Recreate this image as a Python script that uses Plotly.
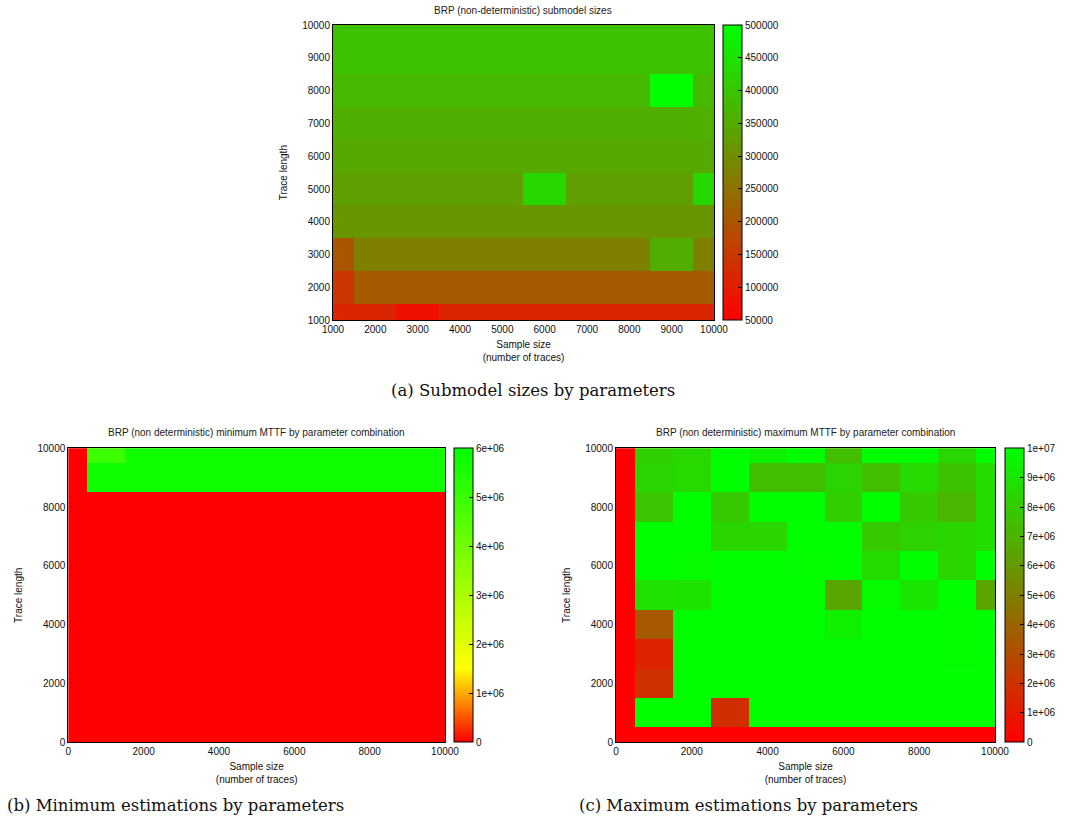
import plotly.graph_objects as go

# ---- (a) submodel sizes: x = sample size, y = trace length ----
sizes_x = [1000, 2000, 3000, 4000, 5000, 6000, 7000, 8000, 9000, 10000]
sizes_y = [1000, 2000, 3000, 4000, 5000, 6000, 7000, 8000, 9000, 10000]
sizes_z = [
    [117000, 117000, 78000, 117000, 117000, 117000, 117000, 117000, 117000, 117000],
    [143500, 208800, 208800, 208800, 208800, 208800, 208800, 208800, 208800, 208800],
    [200000, 275900, 275900, 275900, 275900, 275900, 275900, 275900, 357000, 275900],
    [314700, 314700, 314700, 314700, 314700, 314700, 314700, 314700, 314700, 314700],
    [330600, 330600, 330600, 330600, 330600, 431000, 330600, 330600, 330600, 431000],
    [346500, 346500, 346500, 346500, 346500, 346500, 346500, 346500, 346500, 347500],
    [358800, 358800, 358800, 358800, 358800, 358800, 358800, 358800, 358800, 360000],
    [374700, 374700, 374700, 374700, 374700, 374700, 374700, 374700, 500000, 374700],
    [392000, 392000, 392000, 392000, 392000, 392000, 392000, 392000, 392000, 392000],
    [392500, 392500, 392500, 392500, 392500, 392500, 392500, 392500, 392500, 392500],
]
sizes_cb_vals = [50000, 100000, 150000, 200000, 250000, 300000, 350000, 400000, 450000, 500000]
sizes_cb_text = ["50000", "100000", "150000", "200000", "250000", "300000",
                 "350000", "400000", "450000", "500000"]

# ---- (b) minimum MTTF ----
mttf_x = [0, 1000, 2000, 3000, 4000, 5000, 6000, 7000, 8000, 9000, 10000]
mttf_y = [0, 1000, 2000, 3000, 4000, 5000, 6000, 7000, 8000, 9000, 10000]
min_z = [
    [0] * 11,
    [0] * 11,
    [0] * 11,
    [0] * 11,
    [0] * 11,
    [0] * 11,
    [0] * 11,
    [0] * 11,
    [0] * 11,
    [0, 5.72e6, 5.72e6, 5.72e6, 5.72e6, 5.72e6, 5.72e6, 5.72e6, 5.72e6, 5.72e6, 5.72e6],
    [0, 4.95e6, 5.72e6, 5.72e6, 5.72e6, 5.72e6, 5.72e6, 5.72e6, 5.72e6, 5.72e6, 5.72e6],
]
min_cb_vals = [0, 1e6, 2e6, 3e6, 4e6, 5e6, 6e6]
min_cb_text = ["0", "1e+06", "2e+06", "3e+06", "4e+06", "5e+06", "6e+06"]

# ---- (c) maximum MTTF ----
max_z = [
    [0, 0, 0, 0, 0, 0, 0, 0, 0, 0, 0],
    [0, 1.0e7, 1.0e7, 1.8e6, 1.0e7, 1.0e7, 1.0e7, 1.0e7, 1.0e7, 1.0e7, 1.0e7],
    [0, 1.9e6, 1.0e7, 1.0e7, 1.0e7, 1.0e7, 1.0e7, 1.0e7, 1.0e7, 1.0e7, 1.0e7],
    [0, 1.35e6, 1.0e7, 1.0e7, 1.0e7, 1.0e7, 1.0e7, 1.0e7, 1.0e7, 9.9e6, 1.0e7],
    [0, 3.5e6, 1.0e7, 1.0e7, 1.0e7, 1.0e7, 9.4e6, 1.0e7, 1.0e7, 9.9e6, 1.0e7],
    [0, 8.8e6, 8.9e6, 1.0e7, 1.0e7, 1.0e7, 6.5e6, 9.85e6, 9.0e6, 1.0e7, 6.5e6],
    [0, 1.0e7, 9.85e6, 1.0e7, 1.0e7, 9.9e6, 1.0e7, 8.6e6, 1.0e7, 8.4e6, 1.0e7],
    [0, 1.0e7, 1.0e7, 8.4e6, 8.4e6, 1.0e7, 1.0e7, 7.9e6, 8.24e6, 8.4e6, 8.7e6],
    [0, 7.76e6, 1.0e7, 7.92e6, 1.0e7, 1.0e7, 8.08e6, 1.0e7, 7.92e6, 7.14e6, 8.63e6],
    [0, 8.31e6, 8.55e6, 1.0e7, 7.45e6, 7.45e6, 8.31e6, 7.45e6, 8.55e6, 7.65e6, 8.63e6],
    [0, 8.16e6, 8.47e6, 1.0e7, 9.5e6, 1.0e7, 7.45e6, 1.0e7, 1.0e7, 8.4e6, 1.0e7],
]
max_cb_vals = [0, 1e6, 2e6, 3e6, 4e6, 5e6, 6e6, 7e6, 8e6, 9e6, 1e7]
max_cb_text = ["0", "1e+06", "2e+06", "3e+06", "4e+06", "5e+06", "6e+06",
               "7e+06", "8e+06", "9e+06", "1e+07"]

axis_ticks_a = [1000, 2000, 3000, 4000, 5000, 6000, 7000, 8000, 9000, 10000]
axis_text_a = ["1000", "2000", "3000", "4000", "5000", "6000", "7000", "8000", "9000", "10000"]
axis_ticks_bc = [0, 2000, 4000, 6000, 8000, 10000]
axis_text_bc = ["0", "2000", "4000", "6000", "8000", "10000"]

titles = [
    "BRP (non-deterministic) submodel sizes",
    "BRP (non deterministic) minimum MTTF by parameter combination",
    "BRP (non deterministic) maximum MTTF by parameter combination",
]
captions = [
    "(a) Submodel sizes by parameters",
    "(b) Minimum estimations by parameters",
    "(c) Maximum estimations by parameters",
]

W, H = 1065, 829
SANS = "Liberation Sans, Arial, sans-serif"
SERIF = "DejaVu Serif, serif"


def px(x):
    return x / W


def py(y):
    return 1 - y / H


fig = go.Figure()

fig.add_trace(go.Heatmap(x=sizes_x, y=sizes_y, z=sizes_z, coloraxis="coloraxis",
                         xaxis="x", yaxis="y"))
fig.add_trace(go.Heatmap(x=mttf_x, y=mttf_y, z=min_z, coloraxis="coloraxis2",
                         xaxis="x2", yaxis="y2"))
fig.add_trace(go.Heatmap(x=mttf_x, y=mttf_y, z=max_z, coloraxis="coloraxis3",
                         xaxis="x3", yaxis="y3"))

tick_font = dict(family=SANS, size=10, color="#111")


def xaxis(domain, rng, ticks, text, anchor):
    return dict(domain=domain, range=rng, tickvals=ticks, ticktext=text, anchor=anchor,
                showgrid=False, zeroline=False, showline=True, mirror=True,
                linecolor="#000", linewidth=1, ticks="", tickfont=tick_font,
                automargin=False,
                title=dict(text="Sample size<br>(number of traces)",
                           font=dict(family=SANS, size=10, color="#111"), standoff=6))


def yaxis(domain, rng, ticks, text, anchor):
    return dict(domain=domain, range=rng, tickvals=ticks, ticktext=text, anchor=anchor,
                showgrid=False, zeroline=False, showline=True, mirror=True,
                linecolor="#000", linewidth=1, ticks="", tickfont=tick_font,
                automargin=False,
                title=dict(text="Trace length",
                           font=dict(family=SANS, size=10, color="#111"), standoff=12))


def cbar(x_left, top, bottom, vals, text):
    return dict(x=px(x_left), xanchor="left", y=py(top), yanchor="top",
                len=(bottom - top) / H, lenmode="fraction", thickness=19,
                xpad=0, ypad=0, outlinecolor="#000", outlinewidth=1,
                ticks="inside", ticklen=4, tickcolor="#000",
                tickvals=vals, ticktext=text, tickfont=tick_font)


dom_a_x = [px(333), px(714)]
dom_a_y = [py(320.3), py(25)]
dom_b_x = [px(68.3), px(445)]
dom_c_x = [px(616), px(995)]
dom_bc_y = [py(742.3), py(448.3)]

fig.update_layout(
    width=W, height=H,
    margin=dict(l=0, r=0, t=0, b=0, autoexpand=False),
    paper_bgcolor="white", plot_bgcolor="white",
    xaxis=xaxis(dom_a_x, [1000, 10000], axis_ticks_a, axis_text_a, "y"),
    yaxis=yaxis(dom_a_y, [1000, 10000], axis_ticks_a, axis_text_a, "x"),
    xaxis2=xaxis(dom_b_x, [0, 10000], axis_ticks_bc, axis_text_bc, "y2"),
    yaxis2=yaxis(dom_bc_y, [0, 10000], axis_ticks_bc, axis_text_bc, "x2"),
    xaxis3=xaxis(dom_c_x, [0, 10000], axis_ticks_bc, axis_text_bc, "y3"),
    yaxis3=yaxis(dom_bc_y, [0, 10000], axis_ticks_bc, axis_text_bc, "x3"),
    coloraxis=dict(cmin=50000, cmax=500000,
                   colorscale=[[0, "#ff0000"], [1, "#00ff00"]],
                   colorbar=cbar(723, 25, 320.3, sizes_cb_vals, sizes_cb_text)),
    coloraxis2=dict(cmin=0, cmax=6e6,
                    colorscale=[[0, "#ff0000"], [0.25, "#ffff00"], [1, "#00ff00"]],
                    colorbar=cbar(454, 448.3, 742.3, min_cb_vals, min_cb_text)),
    coloraxis3=dict(cmin=0, cmax=1e7,
                    colorscale=[[0, "#ff0000"], [1, "#00ff00"]],
                    colorbar=cbar(1005, 448.3, 742.3, max_cb_vals, max_cb_text)),
    showlegend=False,
)

# panel titles
for text, cx, cy in [(titles[0], 523, 10.5), (titles[1], 256.5, 432.5), (titles[2], 805.5, 432.5)]:
    fig.add_annotation(text=text, x=px(cx), y=py(cy), xref="paper", yref="paper",
                       showarrow=False, xanchor="center", yanchor="middle",
                       font=dict(family=SANS, size=10, color="#222"))

# figure captions
for text, x, anchor, cy in [(captions[0], 533, "center", 390),
                            (captions[1], 5, "left", 805),
                            (captions[2], 577, "left", 805)]:
    fig.add_annotation(text=text, x=px(x), y=py(cy), xref="paper", yref="paper",
                       showarrow=False, xanchor=anchor, yanchor="middle",
                       font=dict(family=SERIF, size=16.5, color="#111"))

fig.write_html("out.html")
